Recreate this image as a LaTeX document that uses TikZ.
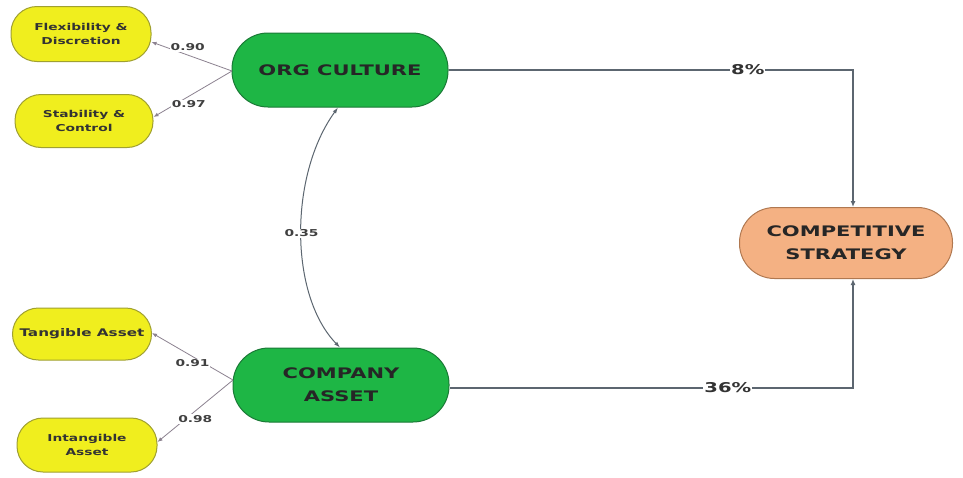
\documentclass[tikz,border=0pt]{standalone}
\usepackage{fontspec}
\setmainfont{DejaVu Sans}[FakeStretch=1.45]
\usetikzlibrary{arrows.meta}
\definecolor{ylw}{HTML}{F0EE1E}
\definecolor{ylwd}{HTML}{A0A030}
\definecolor{grn}{HTML}{1EB645}
\definecolor{grnd}{HTML}{1A7A36}
\definecolor{org}{HTML}{F4B183}
\definecolor{orgd}{HTML}{B07850}
\definecolor{ln}{HTML}{5C6670}
\definecolor{lnl}{HTML}{8C8290}
\begin{document}
\begin{tikzpicture}[x=1pt,y=-1pt,
  indbox/.style={draw=ylwd,line width=1pt,fill=ylw,rounded corners=26pt,minimum width=140pt,minimum height=53pt,align=center,font=\bfseries\fontsize{9.5}{14}\selectfont,text=black!80,inner sep=1pt},
  latbox/.style={draw=grnd,line width=1pt,fill=grn,rounded corners=36pt,minimum width=216pt,minimum height=74pt,align=center,font=\bfseries\fontsize{14.5}{23}\selectfont,text=black!85},
  outbox/.style={draw=orgd,line width=1pt,fill=org,rounded corners=35pt,minimum width=213pt,minimum height=71pt,align=center,font=\bfseries\fontsize{14.5}{23}\selectfont,text=black!85},
  loadline/.style={draw=lnl,line width=0.8pt,-{Latex[length=5pt,width=4pt]}},
  pathline/.style={draw=ln,line width=1.6pt,-{Latex[length=6pt,width=5pt]}},
  lbl/.style={fill=white,inner sep=1pt,font=\bfseries\fontsize{9.5}{12}\selectfont,text=black!75},
  plbl/.style={fill=white,inner sep=1pt,font=\bfseries\fontsize{13.5}{15}\selectfont,text=black!80}]
\useasboundingbox[fill=white] (0,0) rectangle (963,477);
\node[indbox,minimum height=55pt] (fd) at (81,34) {Flexibility \&\\Discretion};
\node[indbox,minimum width=138pt] (sc) at (84,121) {Stability \&\\Control};
\node[indbox,minimum width=139pt,minimum height=52pt,font=\bfseries\fontsize{10.5}{14}\selectfont] (ta) at (82,334) {Tangible Asset};
\node[indbox,minimum height=54pt] (ia) at (87,445) {Intangible\\Asset};
\node[latbox] (oc) at (340,70) {ORG CULTURE};
\node[latbox] (ca) at (341,385) {COMPANY\\ASSET};
\node[outbox] (cs) at (846,243) {COMPETITIVE\\STRATEGY};
\coordinate (ocl) at (232,71);
\coordinate (cal) at (233,380);
\coordinate (tr) at (853,70);
\coordinate (br) at (853,388);
\draw[loadline] (ocl) -- node[lbl,pos=0.55,above=3pt] {0.90} (fd.east |- 0,42);
\draw[loadline] (ocl) -- node[lbl,pos=0.55,below=3pt] {0.97} (sc.east |- 0,117);
\draw[loadline] (cal) -- node[lbl,pos=0.5,below=2pt] {0.91} (ta.east |- 0,333);
\draw[loadline] (cal) -- node[lbl,pos=0.5,below=3pt] {0.98} (ia.east |- 0,442);
\draw[draw=ln,line width=1pt,{Latex[length=6pt,width=4pt]}-{Latex[length=6pt,width=4pt]}]
  (oc.south -| 338,0) .. controls (289,175) and (289,295) .. node[pos=0.5,lbl] {0.35} (ca.north -| 340,0);
\draw[pathline] (oc.east) -- node[plbl,pos=0.74] {8\%} (tr) -- (cs.north -| tr);
\draw[pathline] (ca.east |- br) -- node[plbl,pos=0.69] {36\%} (br) -- (cs.south -| br);
\end{tikzpicture}
\end{document}
